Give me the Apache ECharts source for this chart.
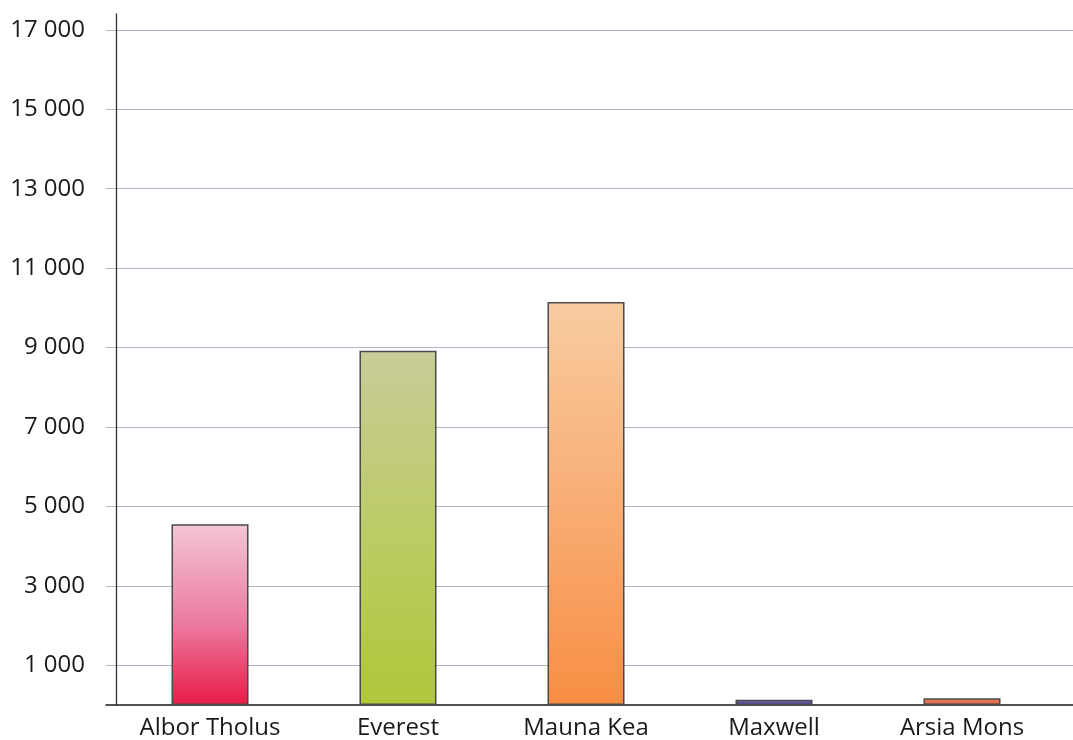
<!DOCTYPE html>
<html>
<head>
<meta charset="utf-8">
<script src="https://cdn.jsdelivr.net/npm/echarts@6/dist/echarts.min.js"></script>
<style>
html,body{margin:0;padding:0;background:#fff;}
#chart{width:1073px;height:740px;}
</style>
</head>
<body>
<div id="chart"></div>
<script>
// Data
const categories = ['Albor Tholus', 'Everest', 'Mauna Kea', 'Maxwell', 'Arsia Mons'];
const heights = [4550, 8920, 10150, 130, 170];
const yTickLabels = [1000, 3000, 5000, 7000, 9000, 11000, 13000, 15000, 17000];

// Styling (not data)
const topColors = ['#f3c6d6', '#c8cc98', '#f8cca0', '#8a6aa8', '#e88a5a'];
const midColors = ['#ec7aa0', '#bccb62', '#f8aa70', '#6050a0', '#e07050'];
const bottomColors = ['#e81c46', '#b0c63a', '#f88e44', '#4a48a0', '#e05040'];

function fmt(v) {
  return String(v).replace(/\B(?=(\d{3})+(?!\d))/g, ' ');
}

const chart = echarts.init(document.getElementById('chart'));
chart.setOption({
  animation: false,
  backgroundColor: '#ffffff',
  grid: { left: 106, right: 0, top: 14, bottom: 35, containLabel: false },
  xAxis: {
    type: 'value',
    min: -0.5 - 10 / 188,
    max: 4.5 + 17 / 188,
    axisLine: { show: true, onZero: true, lineStyle: { color: '#1a1a1a', width: 1.5 } },
    axisTick: { show: false },
    splitLine: { show: false },
    axisLabel: {
      customValues: categories.map((c, i) => i),
      formatter: v => categories[Math.round(v)] || '',
      margin: 11,
      color: '#1a1a1a',
      fontFamily: 'Open Sans',
      fontSize: 24
    }
  },
  yAxis: {
    type: 'value',
    min: 0,
    max: 17400,
    interval: 1000,
    offset: -10,
    axisLine: { show: true, onZero: false, lineStyle: { color: '#333', width: 1.3 } },
    axisTick: { show: false },
    splitLine: { show: true, lineStyle: { color: ['rgba(0,0,0,0)', '#b4b2c4'], width: 1.2 } },
    axisLabel: {
      customValues: yTickLabels,
      formatter: v => fmt(v),
      margin: 31,
      color: '#1a1a1a',
      fontFamily: 'Open Sans',
      fontSize: 24
    }
  },
  series: [{
    type: 'bar',
    barWidth: 77,
    data: heights.map((h, i) => ({
      value: [i, h],
      itemStyle: {
        color: {
          type: 'linear', x: 0, y: 0, x2: 0, y2: 1,
          colorStops: [
            { offset: 0, color: topColors[i] },
            { offset: 0.55, color: midColors[i] },
            { offset: 1, color: bottomColors[i] }
          ]
        },
        borderColor: '#4a4a4a',
        borderWidth: 1.5
      }
    }))
  }]
});
</script>
</body>
</html>
